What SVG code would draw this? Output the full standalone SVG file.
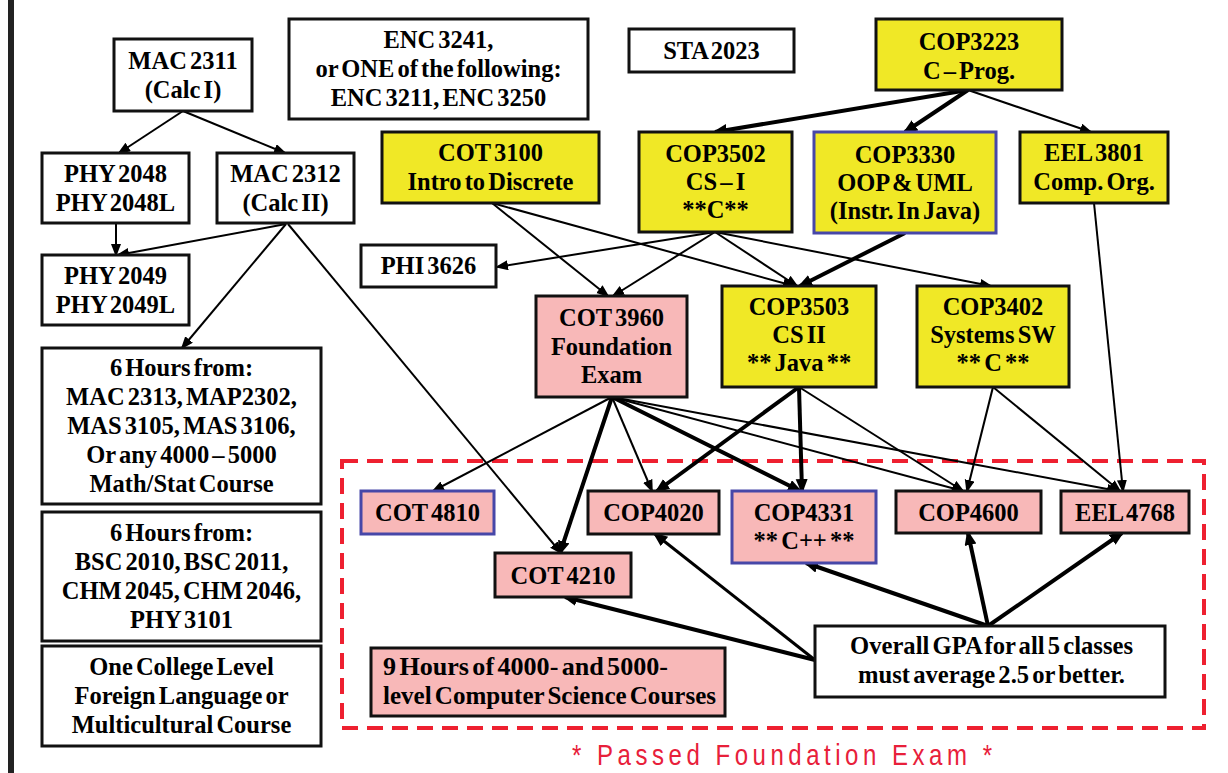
<svg xmlns="http://www.w3.org/2000/svg" width="1228" height="773" viewBox="0 0 1228 773">
<defs>
<style>
.b{stroke:#111;stroke-width:3}
.w{fill:#fff}
.y{fill:#F0E826}
.p{fill:#F8B8B8}
.bl{stroke:#4747A8}
text{font-family:"Liberation Serif","Times New Roman",serif;font-weight:bold;font-size:24.5px;fill:#000;text-anchor:middle;word-spacing:-3px}
.c line{stroke:#000;fill:none}
.t{stroke-width:2;marker-end:url(#ma)}
.k{stroke-width:4;marker-end:url(#mb)}
.m{stroke-width:3;marker-end:url(#mb)}
</style>
<marker id="ma" markerUnits="userSpaceOnUse" markerWidth="14" markerHeight="12" refX="11" refY="5" orient="auto"><path d="M0,0 L13,5 L0,10 z" fill="#000"/></marker>
<marker id="mb" markerUnits="userSpaceOnUse" markerWidth="16" markerHeight="14" refX="12" refY="6" orient="auto"><path d="M0,0 L15,6 L0,12 z" fill="#000"/></marker>
</defs>
<rect x="0" y="0" width="1228" height="773" fill="#fff"/>
<rect x="8" y="0" width="6" height="773" fill="#222"/>

<rect x="342" y="461" width="862" height="267" fill="none" stroke="#EE2030" stroke-width="4" stroke-dasharray="16 9"/>

<g class="c">
<line class="t" x1="183" y1="111" x2="119" y2="153"/>
<line class="t" x1="183" y1="111" x2="285" y2="153"/>
<line class="t" x1="116" y1="223" x2="116" y2="255"/>
<line class="t" x1="286" y1="224" x2="118" y2="255"/>
<line class="t" x1="286" y1="224" x2="182" y2="348"/>
<line class="t" x1="288" y1="224" x2="561" y2="553"/>
<line class="k" x1="968" y1="90" x2="715" y2="132"/>
<line class="k" x1="968" y1="90" x2="905" y2="132"/>
<line class="t" x1="968" y1="90" x2="1091" y2="132"/>
<line class="t" x1="1094" y1="203" x2="1123" y2="491"/>
<line class="k" x1="905" y1="233" x2="800" y2="286"/>
<line class="t" x1="715" y1="232" x2="497" y2="267"/>
<line class="t" x1="715" y1="232" x2="613" y2="296"/>
<line class="t" x1="715" y1="232" x2="797" y2="286"/>
<line class="t" x1="715" y1="232" x2="991" y2="286"/>
<line class="t" x1="492" y1="203" x2="608" y2="296"/>
<line class="t" x1="492" y1="203" x2="794" y2="286"/>
<line class="t" x1="612" y1="397" x2="433" y2="491"/>
<line class="k" x1="612" y1="397" x2="560" y2="553"/>
<line class="t" x1="612" y1="397" x2="652" y2="491"/>
<line class="k" x1="612" y1="397" x2="800" y2="491"/>
<line class="t" x1="612" y1="397" x2="963" y2="491"/>
<line class="t" x1="612" y1="397" x2="1118" y2="491"/>
<line class="k" x1="799" y1="387" x2="657" y2="491"/>
<line class="k" x1="799" y1="387" x2="802" y2="491"/>
<line class="t" x1="799" y1="387" x2="963" y2="491"/>
<line class="t" x1="993" y1="387" x2="967" y2="491"/>
<line class="t" x1="993" y1="387" x2="1120" y2="491"/>
<line class="k" x1="988" y1="626" x2="968" y2="533"/>
<line class="k" x1="988" y1="626" x2="1122" y2="533"/>
<line class="k" x1="988" y1="626" x2="806" y2="563"/>
<line class="k" x1="815" y1="660" x2="565" y2="597"/>
<line class="m" x1="815" y1="660" x2="655" y2="534"/>
</g>

<g id="mac2311"><rect class="b w" x="114" y="39" width="138" height="72"/><text x="183" y="68.5">MAC 2311</text><text x="183" y="97.5">(Calc I)</text></g>
<g id="phy2048"><rect class="b w" x="42" y="153" width="147" height="70"/><text x="115.5" y="181.5">PHY 2048</text><text x="115.5" y="210.5">PHY 2048L</text></g>
<g id="mac2312"><rect class="b w" x="217" y="153" width="137" height="70"/><text x="285.5" y="181.5">MAC 2312</text><text x="285.5" y="210.5">(Calc II)</text></g>
<g id="phy2049"><rect class="b w" x="42" y="255" width="147" height="70"/><text x="115.5" y="283.5">PHY 2049</text><text x="115.5" y="312.5">PHY 2049L</text></g>
<g id="math"><rect class="b w" x="42" y="348" width="279" height="156"/><text x="181.5" y="376">6 Hours from:</text><text x="181.5" y="405">MAC 2313, MAP2302,</text><text x="181.5" y="434">MAS 3105, MAS 3106,</text><text x="181.5" y="463">Or any 4000 – 5000</text><text x="181.5" y="492">Math/Stat Course</text></g>
<g id="science"><rect class="b w" x="42" y="512" width="279" height="129"/><text x="181.5" y="541">6 Hours from:</text><text x="181.5" y="570">BSC 2010, BSC 2011,</text><text x="181.5" y="599">CHM 2045, CHM 2046,</text><text x="181.5" y="628">PHY 3101</text></g>
<g id="language"><rect class="b w" x="42" y="646" width="279" height="100"/><text x="181.5" y="675">One College Level</text><text x="181.5" y="704">Foreign Language or</text><text x="181.5" y="733">Multicultural Course</text></g>
<g id="enc"><rect class="b w" x="289" y="19" width="299" height="100"/><text x="438.5" y="48">ENC 3241,</text><text x="438.5" y="77">or ONE of the following:</text><text x="438.5" y="106">ENC 3211, ENC 3250</text></g>
<g id="sta2023"><rect class="b w" x="629" y="29" width="165" height="43"/><text x="711.5" y="58.5">STA 2023</text></g>
<g id="cop3223"><rect class="b y" x="876" y="19" width="186" height="71"/><text x="969" y="50">COP3223</text><text x="969" y="79">C – Prog.</text></g>
<g id="cot3100"><rect class="b y" x="382" y="132" width="217" height="71"/><text x="490.5" y="161">COT 3100</text><text x="490.5" y="190">Intro to Discrete</text></g>
<g id="cop3502"><rect class="b y" x="639" y="132" width="153" height="100"/><text x="715.5" y="162">COP3502</text><text x="715.5" y="190">CS – I</text><text x="715.5" y="218">**C**</text></g>
<g id="cop3330"><rect class="b y bl" x="814" y="132" width="182" height="101"/><text x="905" y="162.5">COP3330</text><text x="905" y="190.5">OOP &amp; UML</text><text x="905" y="218.5">(Instr. In Java)</text></g>
<g id="eel3801"><rect class="b y" x="1020" y="132" width="148" height="71"/><text x="1094" y="161">EEL 3801</text><text x="1094" y="190">Comp. Org.</text></g>
<g id="phi3626"><rect class="b w" x="361" y="245" width="135" height="42"/><text x="428.5" y="274">PHI 3626</text></g>
<g id="cot3960"><rect class="b p" x="536" y="296" width="151" height="101"/><text x="611.5" y="326">COT 3960</text><text x="611.5" y="354.5">Foundation</text><text x="611.5" y="383">Exam</text></g>
<g id="cop3503"><rect class="b y" x="722" y="286" width="154" height="101"/><text x="799" y="315">COP3503</text><text x="799" y="343">CS II</text><text x="799" y="371">** Java **</text></g>
<g id="cop3402"><rect class="b y" x="917" y="286" width="152" height="101"/><text x="993" y="315">COP3402</text><text x="993" y="343">Systems SW</text><text x="993" y="371">** C **</text></g>
<g id="cot4810"><rect class="b p bl" x="361" y="491" width="133" height="43"/><text x="427.5" y="521">COT 4810</text></g>
<g id="cop4020"><rect class="b p" x="588" y="491" width="131" height="43"/><text x="653.5" y="521">COP4020</text></g>
<g id="cop4331"><rect class="b p bl" x="732" y="491" width="144" height="72"/><text x="804" y="521">COP4331</text><text x="804" y="549">** C++ **</text></g>
<g id="cop4600"><rect class="b p" x="896" y="491" width="145" height="42"/><text x="968.5" y="520.5">COP4600</text></g>
<g id="eel4768"><rect class="b p" x="1061" y="491" width="128" height="42"/><text x="1125" y="520.5">EEL 4768</text></g>
<g id="cot4210"><rect class="b p" x="495" y="553" width="136" height="44"/><text x="563" y="583.5">COT 4210</text></g>
<g id="gpa"><rect class="b w" x="815" y="626" width="350" height="71"/><text x="991.5" y="654" textLength="283" lengthAdjust="spacingAndGlyphs">Overall GPA for all 5 classes</text><text x="991.5" y="683" textLength="267" lengthAdjust="spacingAndGlyphs">must average 2.5 or better.</text></g>
<g id="hours9"><rect class="b p" x="371" y="648" width="354" height="68"/><text x="383" y="675" style="text-anchor:start" textLength="285" lengthAdjust="spacingAndGlyphs">9 Hours of 4000- and 5000-</text><text x="383" y="704" style="text-anchor:start" textLength="333" lengthAdjust="spacingAndGlyphs">level Computer Science Courses</text></g>

<g transform="scale(0.8,1)"><text x="977.5" y="765" style="font-family:'Liberation Sans',Arial,sans-serif;font-weight:normal;font-size:30px;fill:#E8203A;word-spacing:0" textLength="525" lengthAdjust="spacing">* Passed Foundation Exam *</text></g>
</svg>
